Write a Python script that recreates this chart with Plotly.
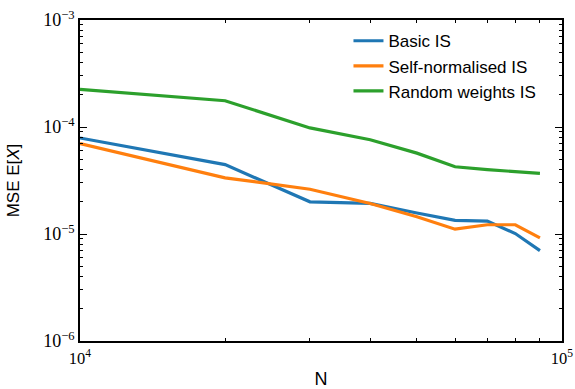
import plotly.graph_objects as go

N = [10000, 20000, 30000, 40000, 50000, 60000, 70000, 80000, 90000]
basic_is = [7.9e-5, 4.45e-5, 2.0e-5, 1.93e-5, 1.57e-5, 1.34e-5, 1.32e-5, 1.01e-5, 7.0e-6]
self_norm_is = [7.0e-5, 3.35e-5, 2.62e-5, 1.93e-5, 1.45e-5, 1.11e-5, 1.22e-5, 1.22e-5, 9.2e-6]
random_w_is = [2.25e-4, 1.76e-4, 9.8e-5, 7.6e-5, 5.7e-5, 4.25e-5, 4.0e-5, 3.8e-5, 3.68e-5]

x_ticks = [1e4, 1e5]
x_ticktext = ["10<sup>4</sup>", "10<sup>5</sup>"]
y_ticks = [1e-6, 1e-5, 1e-4, 1e-3]
y_ticktext = ["10<sup>−6</sup>", "10<sup>−5</sup>", "10<sup>−4</sup>", "10<sup>−3</sup>"]

series = [
    ("Basic IS", basic_is, "#1f77b4"),
    ("Self-normalised IS", self_norm_is, "#ff7f0e"),
    ("Random weights IS", random_w_is, "#2ca02c"),
]

fig = go.Figure()
for name, vals, col in series:
    fig.add_trace(go.Scatter(x=N, y=vals, mode="lines", name=name,
                             line=dict(color=col, width=3.2)))

x_minor = [k * 10**4 for k in range(2, 10)]
y_minor = [k * 10.0**e for e in (-6, -5, -4) for k in range(2, 10)]

axis_common = dict(
    type="log", showgrid=False, zeroline=False, showline=True, linecolor="black",
    linewidth=1.5, mirror="ticks", ticks="inside", ticklen=7, tickwidth=1,
    tickcolor="black", tickmode="array", automargin=False,
    ticklabeloverflow="allow",
)

fig.update_xaxes(**axis_common, range=[4, 5], tickvals=x_ticks, ticktext=x_ticktext,
                 tickfont=dict(family="Liberation Serif", size=16.5, color="black"),
                 ticklabelstandoff=1,
                 minor=dict(tickmode="array", tickvals=x_minor, ticks="inside", ticklen=3.5,
                            tickcolor="black", showgrid=False),
                 title=dict(text="N", font=dict(family="Liberation Sans", size=18, color="black"),
                            standoff=13))
fig.update_yaxes(**axis_common, range=[-6, -3], tickvals=y_ticks, ticktext=y_ticktext,
                 tickfont=dict(family="Liberation Serif", size=18, color="black"),
                 minor=dict(tickmode="array", tickvals=y_minor, ticks="inside", ticklen=3.5,
                            tickcolor="black", showgrid=False),
                 title=dict(text="MSE E[<i>X</i>]", font=dict(family="Liberation Sans", size=17, color="black"),
                            standoff=19))

fig.update_layout(
    width=575, height=389,
    margin=dict(l=80, r=13, t=20, b=48),
    plot_bgcolor="white", paper_bgcolor="white",
    legend=dict(x=0.557, y=0.99, xanchor="left", yanchor="top",
                bgcolor="rgba(0,0,0,0)", borderwidth=0,
                font=dict(family="Liberation Sans", size=17, color="black")),
    showlegend=True,
)

# remove the default 8px body margin so the figure fills the window exactly
fig.write_html("out.html",
               config={"displayModeBar": False},
               post_script="document.body.style.margin='0';document.body.style.overflow='hidden';")
